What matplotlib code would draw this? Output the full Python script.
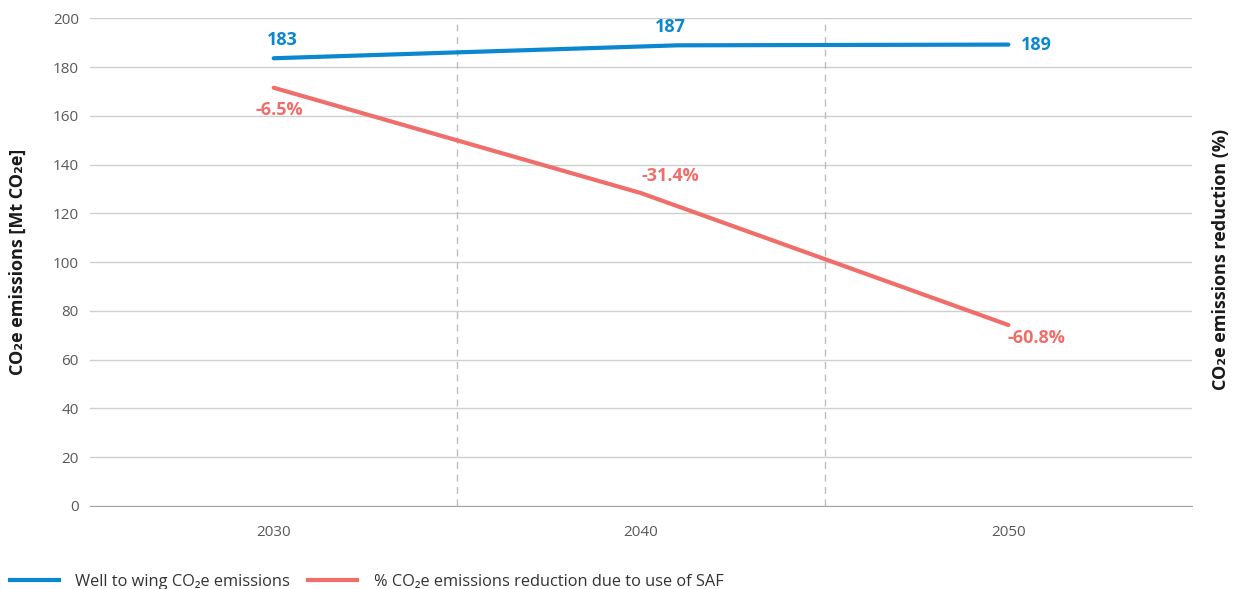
import matplotlib.pyplot as plt
from matplotlib.lines import Line2D

plt.rcParams['font.family'] = ['Open Sans', 'DejaVu Sans']

years = [2030, 2040, 2050]
# well to wing emissions (Mt CO2e), line as drawn in the source
wtw_years = [2030, 2041, 2050]
wtw_values = [183.6, 188.9, 189.2]
wtw_labels = ['183', '187', '189']
# emissions after SAF use
saf_values = [171.5, 128.3, 74.2]
saf_labels = ['-6.5%', '-31.4%', '-60.8%']

BLUE = '#0a87cf'
RED = '#f06e6a'
GREY = '#595959'

fig = plt.figure(figsize=(12.4, 5.89), dpi=100)
ax = fig.add_axes([0.0726, 0.141, 0.8887, 0.828])

ax.set_xlim(2025, 2055)
ax.set_ylim(0, 200)
ax.set_yticks(range(0, 201, 20))
ax.set_xticks(years)
ax.tick_params(axis='both', length=0, labelsize=11, labelcolor=GREY, pad=8)
ax.tick_params(axis='x', pad=14)
ax.yaxis.grid(True, color='#cfcfcf', lw=1)
ax.set_axisbelow(True)
for s in ['top', 'right', 'left']:
    ax.spines[s].set_visible(False)
ax.spines['bottom'].set_color('#a6a6a6')
for xv in [2035, 2045]:
    ax.axvline(xv, color='#bdbdbd', lw=1, ls=(0, (5, 4)), zorder=1)

ax.plot(wtw_years, wtw_values, color=BLUE, lw=3, solid_capstyle='round', zorder=3)
ax.plot(years, saf_values, color=RED, lw=3, solid_capstyle='round', zorder=3)

blue_offsets = [(6, 13), (21, 13), (20, 0)]
for x, y, lab, off in zip(years, wtw_values, wtw_labels, blue_offsets):
    ax.annotate(lab, (x, y), xytext=off, textcoords='offset points', ha='center', va='center',
                color=BLUE, fontsize=13, fontweight='bold')

red_offsets = [(4, -16), (21, 12), (20, -9)]
for x, y, lab, off in zip(years, saf_values, saf_labels, red_offsets):
    ax.annotate(lab, (x, y), xytext=off, textcoords='offset points', ha='center', va='center',
                color=RED, fontsize=13, fontweight='bold')

ax.set_ylabel('CO₂e emissions [Mt CO₂e]', fontsize=13, fontweight='bold', color='#1a1a1a', labelpad=19)
fig.text(0.985, 0.56, 'CO₂e emissions reduction (%)', rotation=90, ha='center', va='center',
         fontsize=13, fontweight='bold', color='#1a1a1a')

handles = [Line2D([], [], color=BLUE, lw=3),
           Line2D([], [], color=RED, lw=3)]
fig.legend(handles, ['Well to wing CO₂e emissions', '% CO₂e emissions reduction due to use of SAF'],
           loc='lower left', bbox_to_anchor=(-0.004, -0.026), ncol=2, frameon=False,
           fontsize=11.8, labelcolor='#333333', handlelength=3.0, handletextpad=1.0,
           columnspacing=1.1)

fig.savefig('out.png', dpi=100)
